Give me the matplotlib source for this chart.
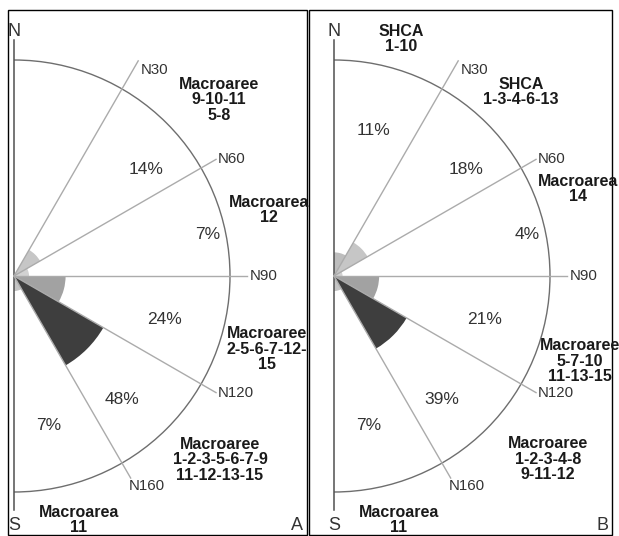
import numpy as np
import matplotlib
matplotlib.use("Agg")
import matplotlib.pyplot as plt
from matplotlib.patches import Wedge, Arc, Rectangle

plt.rcParams['font.family'] = ['Liberation Sans', 'DejaVu Sans']

# sector limits (bearing from N, degrees) and the labels of the rays
sector_edges = [0, 30, 60, 90, 120, 150, 180]
ray_labels = ['N30', 'N60', 'N90', 'N120', 'N160']

# share of structures per sector (%)
pct_a = [0, 14, 7, 24, 48, 7]
pct_b = [11, 18, 4, 21, 39, 7]

# macroarea annotations (text, x px, y px from top)
notes_a = [
    ("Macroaree\n9-10-11\n5-8", 219, 100),
    ("Macroarea\n12", 269, 210),
    ("Macroaree\n2-5-6-7-12-\n15", 267, 349),
    ("Macroaree\n1-2-3-5-6-7-9\n11-12-13-15", 220, 460),
    ("Macroarea\n11", 79, 520),
]
notes_b = [
    ("SHCA\n1-10", 401, 39),
    ("SHCA\n1-3-4-6-13", 521, 92),
    ("Macroarea\n14", 578, 189),
    ("Macroaree\n5-7-10\n11-13-15", 580, 361),
    ("Macroaree\n1-2-3-4-8\n9-11-12", 548, 459),
    ("Macroarea\n11", 399, 520),
]

W, H = 619, 536
R = 216
px_per_pct = 2.15
sector_colors = ['#bdbdbd', '#c6c6c6', '#d2d2d2', '#a2a2a2', '#3e3e3e', '#c4c4c4']
lab_bearing = [15, 51, 78, 106, 139, 167]
lab_r = [151, 170, 198, 157, 164, 153]

fig = plt.figure(figsize=(W / 100, H / 100), dpi=100)
ax = fig.add_axes([0, 0, 1, 1])
ax.set_xlim(0, W)
ax.set_ylim(0, H)
ax.set_aspect('equal')
ax.axis('off')


def pt(cx, cy, b, r):
    t = np.radians(b)
    return cx + r * np.sin(t), cy + r * np.cos(t)


def panel(cx, cy_pix, pct, notes, letter, box):
    cy = H - cy_pix
    x0, x1 = box
    ax.add_patch(Rectangle((x0, 1), x1 - x0, H - 11, fill=False,
                           edgecolor='black', lw=1.0))
    # rose petals
    for i, p in enumerate(pct):
        if p <= 0:
            continue
        ax.add_patch(Wedge((cx, cy), p * px_per_pct,
                           90 - sector_edges[i + 1], 90 - sector_edges[i],
                           facecolor=sector_colors[i], edgecolor='none'))
    # half circle
    ax.add_patch(Arc((cx, cy), 2 * R, 2 * R, theta1=-90, theta2=90,
                     color='#6e6e6e', lw=1.0))
    # N-S axis
    ax.plot([cx, cx], [cy - 234, cy + 236], color='#505050', lw=1.1)
    ax.text(cx, cy + 245, 'N', fontsize=13, ha='center', va='center', color='#333333')
    ax.text(cx, cy - 249, 'S', fontsize=13, ha='center', va='center', color='#333333')
    # rays
    for b, lab in zip(sector_edges[1:-1], ray_labels):
        rl = 1.15 * R if b == 30 else 1.08 * R
        x, y = pt(cx, cy, b, rl)
        ax.plot([cx, x], [cy, y], color='#ababab', lw=1.0)
        if b == 30:
            ax.text(x + 3, y - 2, lab, fontsize=10.8, ha='left', va='top', color='#333333')
        elif b == 150:
            ax.text(x - 2, y - 1, lab, fontsize=10.8, ha='left', va='top', color='#333333')
        else:
            ax.text(x + 2, y, lab, fontsize=10.8, ha='left', va='center', color='#333333')
    # percentages
    for i, p in enumerate(pct):
        if p <= 0:
            continue
        x, y = pt(cx, cy, lab_bearing[i], lab_r[i])
        ax.text(x, y, f"{p}%", fontsize=12.5, ha='center', va='center', color='#333333')
    for txt, x, y in notes:
        ax.text(x, H - y, txt, fontsize=11.5, fontweight='bold', ha='center',
                va='center', linespacing=1.05, color='#1a1a1a')
    ax.text(x1 - 10, H - 525, letter, fontsize=13, ha='center', va='center', color='#333333')


panel(14, 276, pct_a, notes_a, 'A', (8, 307))
panel(334, 276, pct_b, notes_b, 'B', (309, 612))

fig.savefig('out.png', dpi=100, facecolor='white')
